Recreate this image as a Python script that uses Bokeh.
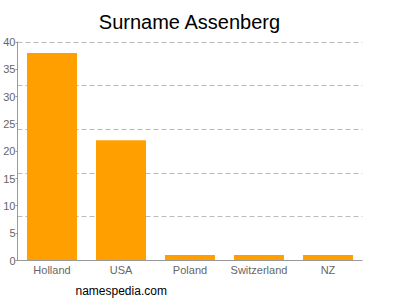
from bokeh.plotting import figure
from bokeh.models import FixedTicker, Title, Range1d
from bokeh.embed import file_html
from bokeh.resources import INLINE

categories = ["Holland", "USA", "Poland", "Switzerland", "NZ"]
counts = [38, 22, 1, 1, 1]
y_ticks = [0, 5, 10, 15, 20, 25, 30, 35, 40]
grid_ticks = [8, 16, 24, 32, 40]
title_text = "Surname Assenberg"
watermark = "namespedia.com"

FONT = "Liberation Sans"

p = figure(x_range=categories, y_range=Range1d(0, 40.1), width=400, height=300,
           output_backend="svg", toolbar_location=None, title=title_text,
           min_border_left=17, min_border_right=38, min_border_top=0, min_border_bottom=39)

p.vbar(x=categories, top=counts, width=0.725, color="#ffa000", line_color=None)

p.title.align = "center"
p.title.text_font = FONT
p.title.text_font_size = "20px"
p.title.text_font_style = "normal"
p.title.text_color = "#000000"
p.title.standoff = 17

p.add_layout(Title(text=watermark, align="left", offset=58, standoff=6,
                   text_font=FONT, text_font_size="12px", text_font_style="normal",
                   text_color="#000000"), "below")

p.outline_line_color = None
p.xgrid.grid_line_color = None
p.ygrid.ticker = FixedTicker(ticks=grid_ticks)
p.ygrid.grid_line_color = "#bbbbbb"
p.ygrid.grid_line_dash = "5 3"
p.ygrid.grid_line_width = 1

p.yaxis.ticker = FixedTicker(ticks=y_ticks)
for ax in (p.xaxis, p.yaxis):
    ax.axis_line_color = "#999999"
    ax.major_tick_line_color = "#999999"
    ax.minor_tick_line_color = None
    ax.major_label_text_font = FONT
    ax.major_label_text_font_size = "11px"
    ax.major_label_text_color = "#666666"
p.yaxis.major_tick_out = 2
p.yaxis.major_tick_in = 0
p.yaxis.major_label_standoff = 0
p.xaxis.major_tick_line_color = None
p.xaxis.major_tick_out = 0
p.xaxis.major_tick_in = 0
p.xaxis.major_label_standoff = 3

open("out.html", "w").write(file_html(p, INLINE))
